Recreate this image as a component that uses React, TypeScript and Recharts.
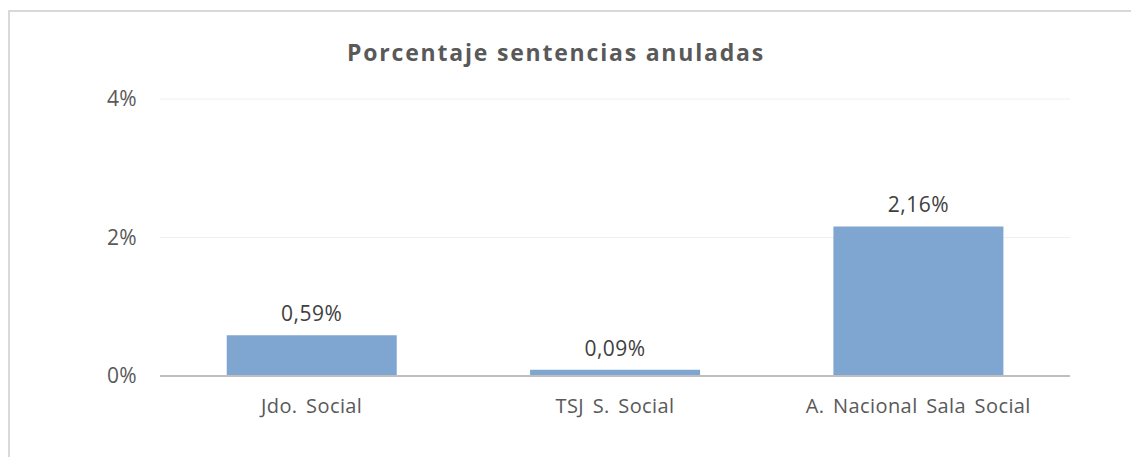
import React from "react";
import { BarChart, Bar, XAxis, YAxis, CartesianGrid, LabelList } from "recharts";

const categories = ["Jdo. Social", "TSJ S. Social", "A. Nacional Sala Social"];
const values = [0.0059, 0.0009, 0.0216];
const yTicks = [0, 0.02, 0.04];
const title = "Porcentaje sentencias anuladas";

const data = categories.map((c, i) => ({ name: c, value: values[i] }));

const FONT = "'Open Sans', 'Noto Sans', sans-serif";

const fmtAxis = (v: number) => `${Math.round(v * 100)}%`;
const fmtLabel = (v: number) => `${(v * 100).toFixed(2).replace(".", ",")}%`;

export default function App() {
  return (
    <div style={{ position: "absolute", left: 0, top: 0, width: 1131, height: 457, background: "#fff", overflow: "hidden" }}>
      <div
        style={{
          position: "absolute",
          left: 8,
          top: 10,
          width: 1140,
          height: 460,
          borderTop: "2px solid #d9d9d9",
          borderLeft: "2px solid #d9d9d9",
          boxSizing: "border-box",
        }}
      />
      <div
        style={{
          position: "absolute",
          left: 0,
          width: 1112,
          top: 37,
          textAlign: "center",
          fontFamily: FONT,
          fontWeight: 700,
          fontSize: 23,
          lineHeight: "30px",
          letterSpacing: 1.8,
          color: "#595959",
        }}
      >
        {title}
      </div>
      <div style={{ position: "absolute", left: 0, top: 0 }}>
        <BarChart
          width={1131}
          height={457}
          data={data}
          margin={{ top: 99, right: 61, bottom: 51, left: 120 }}
          barCategoryGap="22%"
        >
          <CartesianGrid vertical={false} stroke="#efefef" strokeWidth={1} />
          <XAxis
            dataKey="name"
            axisLine={{ stroke: "#bfbfbf", strokeWidth: 2 }}
            tickLine={false}
            tickSize={0}
            tickMargin={23}
            height={30}
            tick={{ fill: "#595959", fontSize: 20, fontFamily: FONT, letterSpacing: 0.4, wordSpacing: 3 }}
          />
          <YAxis
            width={40}
            domain={[0, 0.04]}
            ticks={yTicks}
            tickFormatter={fmtAxis}
            axisLine={false}
            tickLine={false}
            tickSize={0}
            tickMargin={23}
            tick={{ fill: "#595959", fontSize: 21, fontFamily: FONT, letterSpacing: 0.3 }}
          />
          <Bar dataKey="value" fill="#7fa6d1" isAnimationActive={false}>
            <LabelList
              dataKey="value"
              position="top"
              offset={14}
              formatter={fmtLabel}
              style={{ fill: "#404040", fontSize: 21, fontFamily: FONT, letterSpacing: 0.5 }}
            />
          </Bar>
        </BarChart>
      </div>
    </div>
  );
}
